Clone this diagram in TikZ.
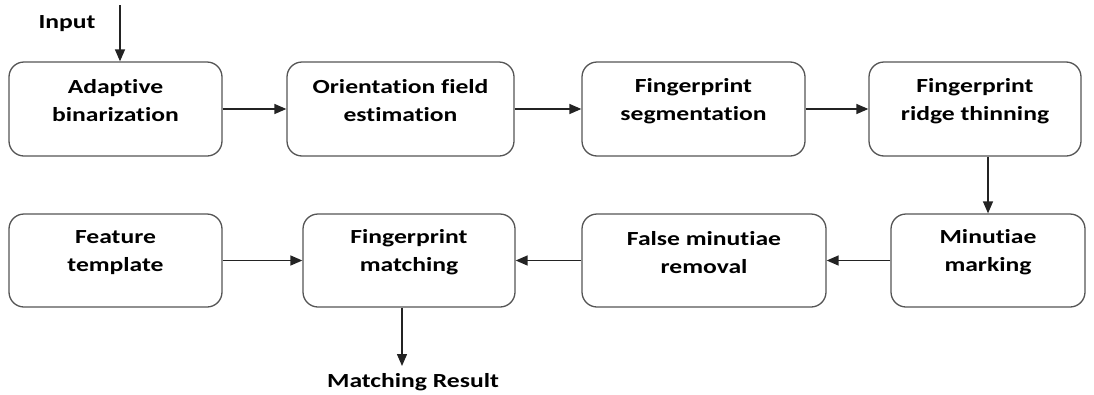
\documentclass[tikz,border=0pt]{standalone}
\usepackage{fontspec}
\setmainfont{Carlito}[FakeStretch=1.28, Ligatures=NoCommon]
\usetikzlibrary{arrows.meta}

\tikzset{
  stage/.style={draw={rgb, 255:red, 85; green, 85; blue, 85 }, line width=1.3pt, rounded corners=15pt, fill=white, minimum height=94pt, inner sep=0pt},
  caption/.style={font=\fontsize{20}{28}\selectfont\bfseries, align=center, inner sep=0pt},
  flow/.style={draw={rgb, 255:red, 35; green, 35; blue, 35 }, line width=1.4pt, -{Triangle[length=12pt,width=10pt]}}
}

\begin{document}
\begin{tikzpicture}[x=1pt,y=1pt,yscale=-1,xscale=1]
\useasboundingbox (0,0) rectangle (1094,394);

% first row
\node [stage, minimum width=213pt, label={[caption,yshift=8pt]center:Adaptive\\binarization}] (bin) at (115.5,109) {};
\node [stage, minimum width=227pt, label={[caption,yshift=8pt]center:Orientation field\\estimation}] (ori) at (400.5,109) {};
\node [stage, minimum width=223pt, label={[caption,yshift=8pt]center:Fingerprint\\segmentation}] (seg) at (693.5,109) {};
\node [stage, minimum width=212pt, label={[caption,yshift=8pt]center:Fingerprint\\ridge thinning}] (thin) at (975,109) {};

% second row
\node [stage, minimum width=213pt, minimum height=93pt, label={[caption,yshift=8pt]center:Feature\\template}] (feat) at (115.5,260.5) {};
\node [stage, minimum width=212pt, minimum height=93pt, label={[caption,yshift=8pt]center:Fingerprint\\matching}] (match) at (409,260.5) {};
\node [stage, minimum width=244pt, minimum height=93pt, label={[caption,yshift=8pt]center:False minutiae\\removal}] (fmr) at (704,260.5) {};
\node [stage, minimum width=194pt, minimum height=93pt, label={[caption,yshift=8pt]center:Minutiae\\marking}] (mark) at (988,260.5) {};

% in and out
\node [caption] (input) at (67,24) {Input};
\node [caption] (result) at (413,382) {Matching Result};
\coordinate (src) at (120,5);
\coordinate (out) at (402,366);

\draw [flow] (src) -- (src |- bin.north);
\draw [flow] (bin) -- (ori);
\draw [flow] (ori) -- (seg);
\draw [flow] (seg) -- (thin);
\draw [flow] (mark.north |- thin.south) -- (mark.north);
\draw [flow] (mark) -- (fmr);
\draw [flow] (fmr) -- (match);
\draw [flow] (feat) -- (match);
\draw [flow] (out |- match.south) -- (out);

\end{tikzpicture}
\end{document}
